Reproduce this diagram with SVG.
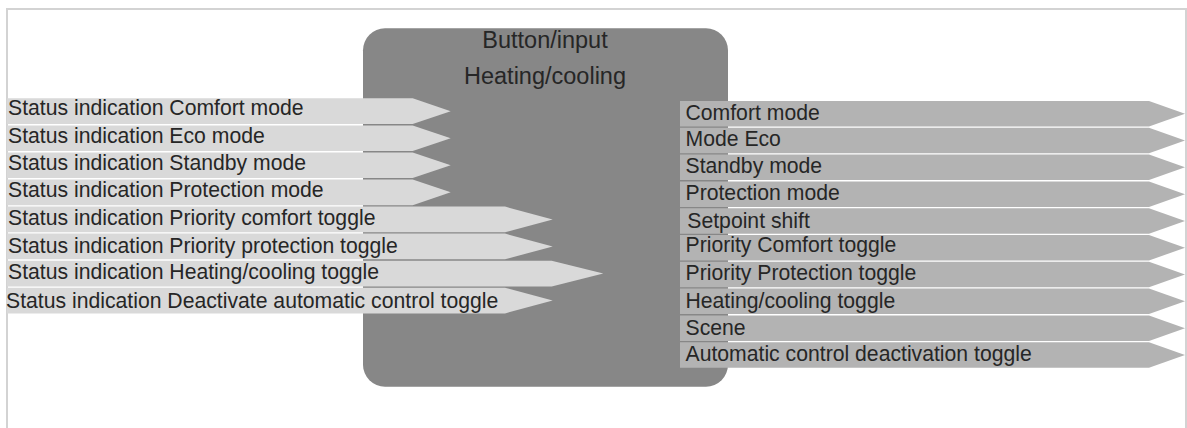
<svg xmlns="http://www.w3.org/2000/svg" width="1187" height="428" viewBox="0 0 1187 428">
<style>
.frame{fill:#ffffff;stroke:#d3d3d3;stroke-width:2}
.box{fill:#878787}
.in{fill:#d9d9d9}
.out{fill:#b3b3b3}
.t{font-family:"Liberation Sans",Arial,sans-serif;font-size:21.2px;fill:#262626}
.title{font-family:"Liberation Sans",Arial,sans-serif;font-size:23.5px;fill:#262626;text-anchor:middle}
</style>
<rect class="frame" x="7" y="9" width="1179" height="440"/>
<g id="block">
<rect class="box" x="363" y="28.3" width="365" height="358.4" rx="22" ry="22"/>
<text class="title" x="545" y="48.3">Button/input</text>
<text class="title" x="545" y="84.3">Heating/cooling</text>
</g>
<g id="inputs">
<g id="in1"><polygon class="in" points="7,98.3 412.7,98.3 450.7,111.15 412.7,124 7,124"/><text class="t" x="8" y="115.3">Status indication Comfort mode</text></g>
<g id="in2"><polygon class="in" points="7,125.4 412.7,125.4 450.7,138.25 412.7,151.1 7,151.1"/><text class="t" x="8" y="142.5">Status indication Eco mode</text></g>
<g id="in3"><polygon class="in" points="7,152.4 412.7,152.4 450.7,165.25 412.7,178.1 7,178.1"/><text class="t" x="8" y="169.6">Status indication Standby mode</text></g>
<g id="in4"><polygon class="in" points="7,179.5 412.7,179.5 450.7,192.35 412.7,205.2 7,205.2"/><text class="t" x="8" y="196.7">Status indication Protection mode</text></g>
<g id="in5"><polygon class="in" points="7,206.6 505,206.6 552.7,219.45 505,232.3 7,232.3"/><text class="t" x="8" y="225">Status indication Priority comfort toggle</text></g>
<g id="in6"><polygon class="in" points="7,233.6 505,233.6 552.7,246.45 505,259.3 7,259.3"/><text class="t" x="8" y="252.5">Status indication Priority protection toggle</text></g>
<g id="in7"><polygon class="in" points="7,260.7 551.7,260.7 603.3,273.55 551.7,286.4 7,286.4"/><text class="t" x="8" y="279.3">Status indication Heating/cooling toggle</text></g>
<g id="in8"><polygon class="in" points="7,287.7 505,287.7 552.7,300.55 505,313.4 7,313.4"/><text class="t" x="6" y="308">Status indication Deactivate automatic control toggle</text></g>
</g>
<g id="outputs">
<g id="out1"><polygon class="out" points="680,101 1149,101 1185,113.75 1149,126.5 680,126.5"/><text class="t" x="685.5" y="120">Comfort mode</text></g>
<g id="out2"><polygon class="out" points="680,127.8 1149,127.8 1185,140.55 1149,153.3 680,153.3"/><text class="t" x="685.5" y="145.8">Mode Eco</text></g>
<g id="out3"><polygon class="out" points="680,154.6 1149,154.6 1185,167.35 1149,180.1 680,180.1"/><text class="t" x="685.5" y="173.3">Standby mode</text></g>
<g id="out4"><polygon class="out" points="680,181.4 1149,181.4 1185,194.15 1149,206.9 680,206.9"/><text class="t" x="685.5" y="200">Protection mode</text></g>
<g id="out5"><polygon class="out" points="680,208.2 1149,208.2 1185,220.95 1149,233.7 680,233.7"/><text class="t" x="687.3" y="228.3">Setpoint shift</text></g>
<g id="out6"><polygon class="out" points="680,235 1149,235 1185,247.75 1149,260.5 680,260.5"/><text class="t" x="685.5" y="251.7">Priority Comfort toggle</text></g>
<g id="out7"><polygon class="out" points="680,261.8 1149,261.8 1185,274.55 1149,287.3 680,287.3"/><text class="t" x="685.5" y="280">Priority Protection toggle</text></g>
<g id="out8"><polygon class="out" points="680,288.6 1149,288.6 1185,301.35 1149,314.1 680,314.1"/><text class="t" x="685.5" y="308.3">Heating/cooling toggle</text></g>
<g id="out9"><polygon class="out" points="680,315.4 1149,315.4 1185,328.15 1149,340.9 680,340.9"/><text class="t" x="685.5" y="335">Scene</text></g>
<g id="out10"><polygon class="out" points="680,342.2 1149,342.2 1185,354.95 1149,367.7 680,367.7"/><text class="t" x="685.5" y="361">Automatic control deactivation toggle</text></g>
</g>
</svg>
